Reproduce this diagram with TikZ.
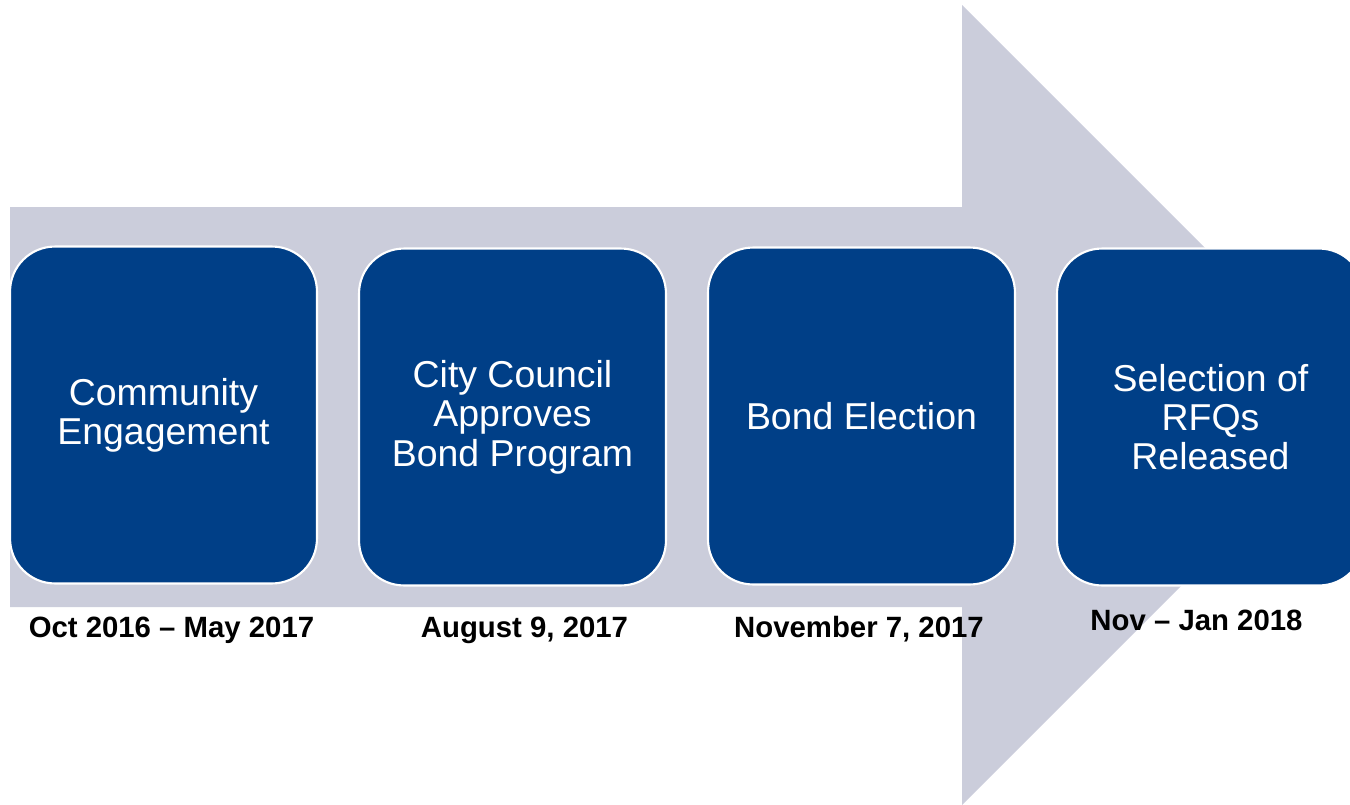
\documentclass[tikz,border=0pt]{standalone}
\usepackage{fontspec}
\setmainfont{Liberation Sans}
\definecolor{arrowgray}{RGB}{203,205,219}
\definecolor{boxblue}{RGB}{0,63,135}
\tikzset{
	stage/.style={fill=boxblue, draw=white, line width=1.2pt, rounded corners=0.9cm,
		minimum width=6.14cm, minimum height=6.74cm, inner sep=0pt,
		text=white, align=center, font=\fontsize{21.3}{22.4}\selectfont},
	datelabel/.style={anchor=base, inner sep=0pt, font=\bfseries\fontsize{16.7}{16.7}\selectfont}
}
\begin{document}
\begin{tikzpicture}[x=0.02cm,y=-0.02cm]
	\useasboundingbox (0,0) rectangle (1350,805);
	\clip (0,0) rectangle (1350,805);
	% big arrow behind the stages
	\fill[arrowgray] (10,207) -- (962,207) -- (962,5) -- (1362,405) -- (962,805) -- (962,607) -- (10,607) -- cycle;
	% stages
	\node[stage] (community) at (163.5,415) {Community\\Engagement};
	\node[stage] (council) at (512.5,417) {City Council\\Approves\\Bond Program};
	\node[stage] (election) at (861.5,416) {Bond Election};
	\node[stage] (rfq) at (1210.5,417) {Selection of\\RFQs\\Released};
	% dates
	\node[datelabel] (communitydate) at (171.5,637) {Oct 2016 – May 2017};
	\node[datelabel] (councildate) at (524.5,637) {August 9, 2017};
	\node[datelabel] (electiondate) at (859,637) {November 7, 2017};
	\node[datelabel] (rfqdate) at (1196.5,630) {Nov – Jan 2018};
\end{tikzpicture}
\end{document}
